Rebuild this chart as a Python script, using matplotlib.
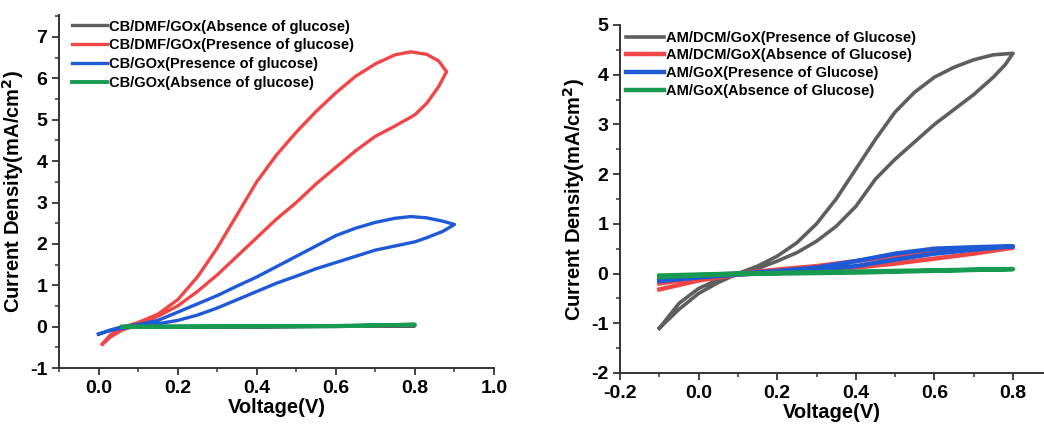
import matplotlib as mpl
mpl.use('Agg')
import matplotlib.pyplot as plt
from matplotlib.ticker import MultipleLocator

plt.rcParams['font.family'] = ['Liberation Sans', 'DejaVu Sans']
plt.rcParams['font.weight'] = 'bold'

GRAY = '#5e5e5e'
RED = '#f04646'
BLUE = '#1f5ad6'
GREEN = '#189a50'

# ---- left panel: CB electrodes (loops) ----
left_labels = ['CB/DMF/GOx(Absence of glucose)', 'CB/DMF/GOx(Presence of glucose)',
               'CB/GOx(Presence of glucose)', 'CB/GOx(Absence of glucose)']

cb_dmf_abs_v = [0.07, 0.4, 0.8, 0.4, 0.07]
cb_dmf_abs_j = [0.0, 0.0, 0.02, -0.01, -0.01]

cb_dmf_pre_v = [0.01, 0.03, 0.06, 0.1, 0.15, 0.2, 0.25, 0.3, 0.35, 0.4, 0.45, 0.5, 0.55, 0.6,
                0.65, 0.7, 0.75, 0.79, 0.83, 0.86, 0.88,
                0.86, 0.83, 0.8, 0.75, 0.7, 0.65, 0.6, 0.55, 0.5, 0.45, 0.4, 0.35, 0.3, 0.25,
                0.2, 0.15, 0.1, 0.06, 0.03, 0.01]
cb_dmf_pre_j = [-0.42, -0.2, -0.02, 0.1, 0.3, 0.65, 1.2, 1.9, 2.7, 3.5, 4.15, 4.7, 5.2, 5.65,
                6.05, 6.35, 6.57, 6.64, 6.58, 6.42, 6.16,
                5.8, 5.4, 5.12, 4.85, 4.6, 4.25, 3.85, 3.45, 3.0, 2.6, 2.15, 1.7, 1.25, 0.85,
                0.5, 0.25, 0.05, -0.08, -0.25, -0.42]

cb_pre_v = [0.0, 0.03, 0.06, 0.1, 0.15, 0.2, 0.25, 0.3, 0.35, 0.4, 0.45, 0.5, 0.55, 0.6,
            0.65, 0.7, 0.75, 0.79, 0.83, 0.87, 0.9,
            0.87, 0.83, 0.8, 0.75, 0.7, 0.65, 0.6, 0.55, 0.5, 0.45, 0.4, 0.35, 0.3, 0.25,
            0.2, 0.15, 0.1, 0.05, 0.02, 0.0]
cb_pre_j = [-0.18, -0.08, 0.0, 0.05, 0.15, 0.35, 0.55, 0.75, 0.98, 1.2, 1.45, 1.7, 1.95, 2.2,
            2.38, 2.52, 2.62, 2.66, 2.63, 2.55, 2.47,
            2.3, 2.15, 2.05, 1.95, 1.85, 1.7, 1.55, 1.4, 1.22, 1.05, 0.85, 0.65, 0.45, 0.28,
            0.15, 0.07, 0.0, -0.05, -0.12, -0.18]

cb_abs_v = [0.06, 0.3, 0.6, 0.8, 0.6, 0.3, 0.06]
cb_abs_j = [0.0, 0.01, 0.02, 0.05, 0.01, 0.0, 0.0]

# ---- right panel: AM electrodes ----
right_labels = ['AM/DCM/GoX(Presence of Glucose)', 'AM/DCM/GoX(Absence of Glucose)',
                'AM/GoX(Presence of Glucose)', 'AM/GoX(Absence of Glucose)']

am_dcm_pre_v = [-0.1, -0.05, 0.0, 0.05, 0.1, 0.15, 0.2, 0.25, 0.3, 0.35, 0.4, 0.45, 0.5, 0.55,
                0.6, 0.65, 0.7, 0.75, 0.8,
                0.78, 0.75, 0.7, 0.65, 0.6, 0.55, 0.5, 0.45, 0.4, 0.35, 0.3, 0.25, 0.2, 0.15,
                0.1, 0.05, 0.0, -0.05, -0.1]
am_dcm_pre_j = [-1.1, -0.6, -0.3, -0.12, 0.0, 0.15, 0.35, 0.62, 1.0, 1.5, 2.1, 2.7, 3.25, 3.65,
                3.95, 4.15, 4.3, 4.4, 4.43,
                4.2, 3.95, 3.6, 3.3, 3.0, 2.65, 2.3, 1.9, 1.35, 0.95, 0.65, 0.42, 0.25, 0.1,
                0.0, -0.18, -0.4, -0.72, -1.1]

am_dcm_abs_v = [-0.1, 0.0, 0.1, 0.2, 0.3, 0.4, 0.5, 0.6, 0.7, 0.8,
                0.7, 0.6, 0.5, 0.4, 0.3, 0.2, 0.1, 0.0, -0.1]
am_dcm_abs_j = [-0.2, -0.08, 0.0, 0.08, 0.15, 0.25, 0.35, 0.45, 0.5, 0.52,
                0.4, 0.3, 0.2, 0.12, 0.07, 0.03, -0.02, -0.14, -0.32]

am_pre_v = [-0.1, 0.0, 0.1, 0.2, 0.3, 0.4, 0.5, 0.6, 0.7, 0.8,
            0.7, 0.6, 0.5, 0.4, 0.3, 0.2, 0.1, 0.0, -0.1]
am_pre_j = [-0.1, -0.03, 0.0, 0.05, 0.12, 0.25, 0.4, 0.5, 0.53, 0.55,
            0.48, 0.4, 0.28, 0.15, 0.07, 0.02, -0.02, -0.08, -0.15]

am_abs_v = [-0.1, 0.1, 0.4, 0.8, 0.4, 0.1, -0.1]
am_abs_j = [-0.04, 0.0, 0.04, 0.09, 0.02, -0.01, -0.07]

fig = plt.figure(figsize=(10.44, 4.25), dpi=100)


def style_axes(ax):
    for s in ['top', 'right']:
        ax.spines[s].set_visible(False)
    for s in ['left', 'bottom']:
        ax.spines[s].set_linewidth(1.4)
        ax.spines[s].set_color('#333333')
    ax.tick_params(which='major', direction='out', length=5, width=1.3, labelsize=14, colors='#333333')
    ax.tick_params(which='minor', direction='out', length=3, width=1.1, colors='#333333')
    ax.tick_params(labelcolor='black')
    for lab in ax.get_xticklabels() + ax.get_yticklabels():
        lab.set_fontweight('bold')
    ax.set_xlabel('Voltage(V)', fontsize=14.5, fontweight='bold', labelpad=1)
    ax.set_ylabel('Current Density(mA/cm$^\\mathbf{2}$)', fontsize=14.5, fontweight='bold', labelpad=3)


# left
ax1 = fig.add_axes([0.0565, 0.134, 0.4167, 0.8306])
ax1.plot(cb_dmf_abs_v, cb_dmf_abs_j, color=GRAY, lw=2.4, label=left_labels[0])
ax1.plot(cb_dmf_pre_v, cb_dmf_pre_j, color=RED, lw=2.4, label=left_labels[1])
ax1.plot(cb_pre_v, cb_pre_j, color=BLUE, lw=2.4, label=left_labels[2])
ax1.plot(cb_abs_v, cb_abs_j, color=GREEN, lw=2.8, label=left_labels[3])
ax1.set_xlim(-0.1, 1.0)
ax1.set_ylim(-1, 7.53)
ax1.xaxis.set_minor_locator(MultipleLocator(0.1))
ax1.yaxis.set_minor_locator(MultipleLocator(0.5))
ax1.set_xticks([0.0, 0.2, 0.4, 0.6, 0.8, 1.0])
ax1.set_xticklabels(['0.0', '0.2', '0.4', '0.6', '0.8', '1.0'])
ax1.set_yticks(range(-1, 8))
ax1.set_yticklabels([str(v) for v in range(-1, 8)])
style_axes(ax1)
ax1.legend(loc='upper left', bbox_to_anchor=(0.01, 1.012), frameon=False,
           handlelength=2.4, handletextpad=0.15, labelspacing=0.33, borderaxespad=0.2,
           prop={'weight': 'bold', 'size': 10.5})

# right
ax2 = fig.add_axes([0.5939, 0.1224, 0.4065, 0.8188])
ax2.plot(am_dcm_pre_v, am_dcm_pre_j, color=GRAY, lw=2.6, label=right_labels[0])
ax2.plot(am_dcm_abs_v, am_dcm_abs_j, color=RED, lw=3.2, label=right_labels[1])
ax2.plot(am_pre_v, am_pre_j, color=BLUE, lw=3.2, label=right_labels[2])
ax2.plot(am_abs_v, am_abs_j, color=GREEN, lw=3.2, label=right_labels[3])
ax2.set_xlim(-0.2, 0.88)
ax2.set_ylim(-2, 5)
ax2.xaxis.set_minor_locator(MultipleLocator(0.1))
ax2.yaxis.set_minor_locator(MultipleLocator(0.5))
ax2.set_xticks([-0.2, 0.0, 0.2, 0.4, 0.6, 0.8])
ax2.set_xticklabels(['-0.2', '0.0', '0.2', '0.4', '0.6', '0.8'])
ax2.set_yticks(range(-2, 6))
ax2.set_yticklabels([str(v) for v in range(-2, 6)])
style_axes(ax2)
ax2.legend(loc='upper left', bbox_to_anchor=(0.0, 1.0), frameon=False,
           handlelength=2.6, handletextpad=0.15, labelspacing=0.25, borderaxespad=0.0,
           prop={'weight': 'bold', 'size': 10.5})

fig.savefig('out.png', dpi=100)
